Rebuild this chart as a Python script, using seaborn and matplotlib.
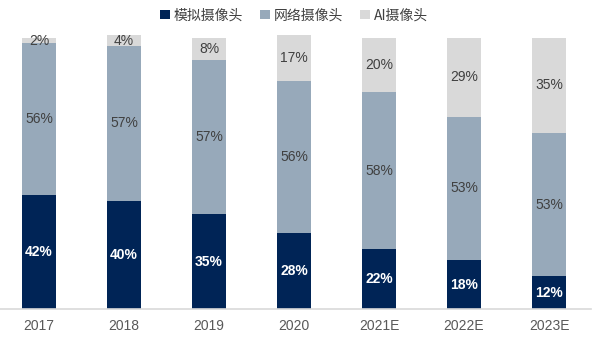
import matplotlib
matplotlib.use("Agg")
import matplotlib.pyplot as plt
import seaborn as sns
import pandas as pd
import numpy as np
from matplotlib.patches import Patch

years = ["2017", "2018", "2019", "2020", "2021E", "2022E", "2023E"]
analog = [42, 40, 35, 28, 22, 18, 12]
network = [56, 57, 57, 56, 58, 53, 53]
ai = [2, 4, 8, 17, 20, 29, 35]
series_names = ["模拟摄像头", "网络摄像头", "AI摄像头"]

c_analog = "#002456"
c_network = "#97A9BA"
c_ai = "#D9D9D9"

sns.set_theme(style="white")
plt.rcParams['font.family'] = ['Liberation Sans', 'Noto Sans CJK SC', 'DejaVu Sans']

df = pd.DataFrame({"year": years, "analog": analog, "network": network, "ai": ai})
df["c1"] = df["analog"]
df["c2"] = df["analog"] + df["network"]
df["c3"] = df["c2"] + df["ai"]

fig = plt.figure(figsize=(6.0, 3.42), dpi=100)
ax = fig.add_axes([0.0, 0.0965, 0.985, 0.7924])

for col, color in [("c3", c_ai), ("c2", c_network), ("c1", c_analog)]:
    sns.barplot(data=df, x="year", y=col, color=color, width=0.4, ax=ax,
                saturation=1, edgecolor="none", linewidth=0, errorbar=None)
for p in ax.patches:
    p.set_clip_on(False)

ax.set_xlim(-0.459, 6.494)
ax.set_ylim(0, 100)

for i in range(len(years)):
    ax.text(i, analog[i] / 2, f"{analog[i]}%", ha="center", va="center",
            color="white", fontsize=10, fontweight="bold")
    ax.text(i, analog[i] + network[i] / 2, f"{network[i]}%", ha="center", va="center",
            color="#404040", fontsize=10)
    ax.text(i, analog[i] + network[i] + ai[i] / 2, f"{ai[i]}%", ha="center", va="center",
            color="#404040", fontsize=10)

ax.set_xlabel("")
ax.set_ylabel("")
ax.set_yticks([])
ax.tick_params(axis="x", length=0, pad=7, labelsize=10, labelcolor="#595959")
for s in ["top", "right", "left"]:
    ax.spines[s].set_visible(False)
ax.spines["bottom"].set_color("#D9D9D9")
ax.spines["bottom"].set_linewidth(1.2)

handles = [Patch(facecolor=c, edgecolor="none") for c in [c_analog, c_network, c_ai]]
fig.legend(handles, series_names, loc="center", bbox_to_anchor=(0.49, 0.955), ncol=3,
           frameon=False, fontsize=10, handlelength=0.7, handleheight=0.7,
           handletextpad=0.3, columnspacing=1.2, labelcolor="#404040",
           prop={"family": ["Noto Sans CJK SC", "DejaVu Sans"], "size": 10})

fig.savefig("out.png", dpi=100)
